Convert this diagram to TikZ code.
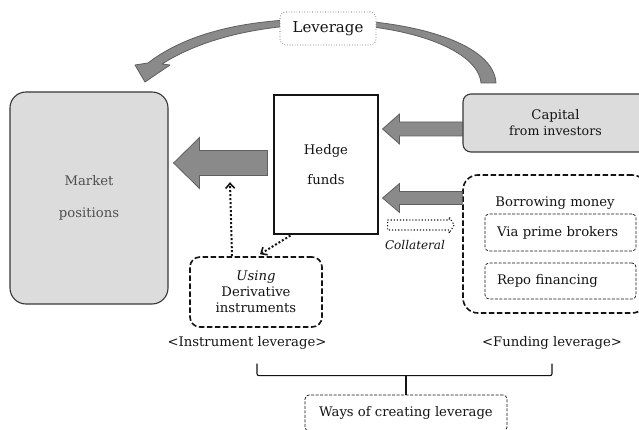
\documentclass[tikz,border=0pt]{standalone}
\usepackage{fontspec}
\setmainfont{DejaVu Serif}
\usetikzlibrary{arrows.meta,calc}
\definecolor{arrgray}{RGB}{138,138,138}
\definecolor{arredge}{RGB}{95,95,95}
\definecolor{boxgray}{RGB}{220,220,220}
\definecolor{ink}{RGB}{20,20,20}
\newcommand\blkarrow[5]{%
  \draw[blockarrow] ($(#1)+(0,-#3)$) -- ($(#2)+(#5,-#3)$) -- ($(#2)+(#5,-#4)$) -- (#2)
    -- ($(#2)+(#5,#4)$) -- ($(#2)+(#5,#3)$) -- ($(#1)+(0,#3)$) -- cycle;}
\begin{document}
\begin{tikzpicture}[x=1pt,y=-1pt,
  font=\fontsize{13.2}{16}\selectfont, text=ink,
  blockarrow/.style={fill=arrgray,draw=arredge,line width=0.8pt,line join=miter},
  graybox/.style={draw=ink!85,fill=boxgray,line width=1.1pt,inner sep=0pt},
  thickdash/.style={draw=ink,line width=1.6pt,dash pattern=on 5.5pt off 2.5pt,rounded corners=12pt,inner sep=0pt},
  thindash/.style={draw=ink,line width=0.7pt,dash pattern=on 3pt off 1.5pt,rounded corners=4pt,inner sep=0pt},
  dotarrow/.style={draw=ink,line width=2pt,dotted,-{Straight Barb[length=5pt,width=9pt,line width=1.6pt]}},
  lbl/.style={inner sep=0pt,align=center}]
\clip (0,0) rectangle (639,430);
\fill[white] (0,0) rectangle (639,430);

% nodes
\node[graybox,rounded corners=16pt,minimum width=158pt,minimum height=212pt,text=ink!75,align=center] (market) at (89,198) {Market\\[16pt]positions};
\node[draw=ink,line width=1.1pt,minimum width=104pt,minimum height=139pt,inner sep=0pt,align=center] (hedge) at (326,164.5) {Hedge\\[14pt]funds};
\node[graybox,rounded corners=8pt,minimum width=185pt,minimum height=58pt,align=center] (cap) at (555.5,123) {Capital\\[0pt]{\fontsize{12.6}{15}\selectfont from investors}};
\node[thickdash,rounded corners=15pt,minimum width=184pt,minimum height=138pt] (borrow) at (555,244) {};
\node[lbl] (borrowlbl) at (555,203) {Borrowing money};
\node[thindash,minimum width=151pt,minimum height=37pt,text width=127pt,inner xsep=12pt,align=left] (prime) at (560.5,232.5) {Via prime brokers};
\node[thindash,minimum width=151pt,minimum height=36pt,text width=127pt,inner xsep=12pt,align=left] (repo) at (560.5,281) {Repo financing};
\node[thickdash,rounded corners=10pt,minimum width=132pt,minimum height=70pt,align=center] (using) at (256,292) {\textit{Using}\\Derivative\\instruments};
\node[lbl] (instr) at (247,343) {<Instrument leverage>};
\node[lbl] (fund) at (552,343) {<Funding leverage>};
\node[thindash,minimum width=202pt,minimum height=36pt] (ways) at (406,413) {Ways of creating leverage};
\node[lbl,font=\fontsize{12}{14}\selectfont\itshape] (collat) at (415,245) {Collateral};

% curved leverage arrow
\draw[blockarrow,line join=round]
  (496,83) .. controls (494,45) and (420,21) .. (328,19)
  .. controls (250,18) and (188,32) .. (148,63)
  -- (135,65) -- (145,82) -- (170,65) -- (162,64)
  .. controls (200,40) and (255,25) .. (328,24)
  .. controls (410,25) and (478,50) .. (481,83) -- cycle;
\node[draw=ink!80,line width=0.6pt,dotted,rounded corners=6pt,fill=white,minimum width=96pt,minimum height=33pt,font=\fontsize{15}{18}\selectfont] (lev) at (328,28.5) {Leverage};

% block arrows
\coordinate (a1s) at ($(cap.west)+(0,6)$);
\coordinate (a1t) at ($(hedge.east |- a1s)+(4,0)$);
\blkarrow{a1s}{a1t}{7}{15}{17}
\coordinate (a2s) at (borrow.west |- 0,198);
\coordinate (a2t) at ($(hedge.east |- a2s)+(4,0)$);
\blkarrow{a2s}{a2t}{6.5}{14.5}{17}
\coordinate (a3s) at ($(hedge.west |- 0,163)+(-6,0)$);
\coordinate (a3t) at ($(market.east |- a3s)+(5,0)$);
\blkarrow{a3s}{a3t}{12.5}{25.5}{26}

% dotted arrows
\coordinate (dtip) at ($(using.north)+(-26,-74)$);
\draw[dotarrow] ($(using.north)+(-24,0)$) -- (dtip);
\draw[dotarrow] ($(hedge.south west)+(17,1)$) -- ($(using.north)+(4,-2)$);

% collateral hollow arrow
\coordinate (cs) at ($(hedge.east |- 0,225)+(9,0)$);
\coordinate (ct) at ($(borrow.west |- cs)+(-8,0)$);
\draw[ink,line width=1.1pt,dotted,line join=round]
  ($(cs)+(0,-5)$) -- ($(ct)+(-5,-5)$) -- ($(ct)+(-5,-8)$) -- (ct) -- ($(ct)+(-5,8)$) -- ($(ct)+(-5,5)$) -- ($(cs)+(0,5)$) -- cycle;

% brace
\draw[ink,line width=1.1pt,rounded corners=2pt] ($(instr.south)+(10,14)$) -- ($(instr.south)+(10,26)$) -- ($(fund.south)+(0,26)$) -- ($(fund.south)+(0,14)$);
\draw[ink,line width=1.1pt] ($(ways.north)+(0,-19)$) -- (ways.north);
\end{tikzpicture}
\end{document}
